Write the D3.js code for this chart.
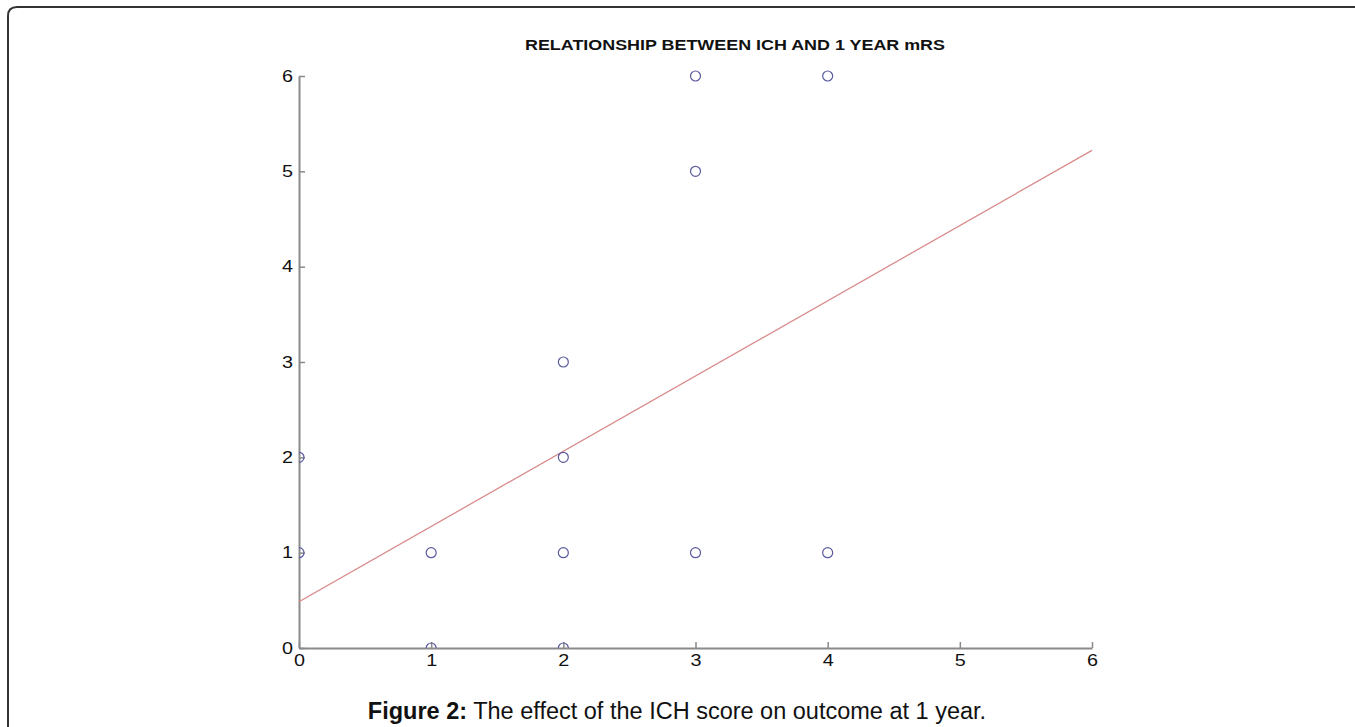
<!DOCTYPE html>
<html><head><meta charset="utf-8">
<script src="https://cdn.jsdelivr.net/npm/d3@7"></script>
<style>body{margin:0;background:#fff;}svg{display:block;font-family:"Liberation Sans",Arial,sans-serif;}</style>
</head><body>
<svg id="c" width="1355" height="727"></svg>
<script>
const ichScore = [0, 0, 1, 1, 2, 2, 2, 2, 3, 3, 3, 4, 4];
const mrs1Year = [1, 2, 0, 1, 0, 1, 2, 3, 1, 5, 6, 1, 6];
const fitIntercept = 0.486;
const fitSlope = 0.789;
const xTicks = [0, 1, 2, 3, 4, 5, 6];
const yTicks = [0, 1, 2, 3, 4, 5, 6];
const title = "RELATIONSHIP BETWEEN ICH AND 1 YEAR mRS";

const svg = d3.select("#c");
svg.append("path").attr("d","M8,727 L8,16 Q8,7 17,7 L1355,7")
  .attr("fill","none").attr("stroke","#333").attr("stroke-width",2);

const L=299,R=1092,T=76,B=648;
const x=d3.scaleLinear().domain([0,6]).range([L,R]);
const y=d3.scaleLinear().domain([0,6]).range([B,T]);

svg.append("defs").append("clipPath").attr("id","clip")
  .append("rect").attr("x",L).attr("y",T-10).attr("width",R-L+10).attr("height",B-T+10);

const axColor="#8a8a8a";
const gx=svg.append("g").attr("transform",`translate(0,${B})`)
  .call(d3.axisBottom(x).tickValues(xTicks).tickFormat(d3.format("d")).tickSize(-6).tickSizeOuter(0).tickPadding(7));
const gy=svg.append("g").attr("transform",`translate(${L},0)`)
  .call(d3.axisLeft(y).tickValues(yTicks).tickFormat(d3.format("d")).tickSize(-6).tickSizeOuter(0).tickPadding(6));
[gx,gy].forEach(g=>{
  g.attr("font-size",null).attr("font-family",null);
  g.select(".domain").attr("stroke",axColor).attr("stroke-width",2);
  g.selectAll(".tick line").attr("stroke",axColor).attr("stroke-width",1.5);
  g.selectAll(".tick text").attr("fill","#111").style("font-size","16px")
    .attr("textLength",11).attr("lengthAdjust","spacingAndGlyphs");
});

const plot=svg.append("g").attr("clip-path","url(#clip)");
plot.append("line")
  .attr("x1",x(0)).attr("y1",y(fitIntercept))
  .attr("x2",x(6)).attr("y2",y(fitIntercept+fitSlope*6))
  .attr("stroke","#d98c8c").attr("stroke-width",1.3);

plot.selectAll("circle").data(ichScore.map((d,i)=>[d,mrs1Year[i]])).enter().append("circle")
  .attr("cx",d=>x(d[0])).attr("cy",d=>y(d[1])).attr("r",5)
  .attr("fill","none").attr("stroke","#5a5a9e").attr("stroke-width",1.2);

svg.append("text").attr("x",735).attr("y",50).attr("text-anchor","middle")
  .attr("textLength",420).attr("lengthAdjust","spacingAndGlyphs")
  .attr("font-weight","bold").attr("font-size",14).attr("fill","#111").text(title);

const cap=svg.append("text").attr("x",677).attr("y",719).attr("text-anchor","middle")
  .attr("font-size",23.5).attr("fill","#111");
cap.append("tspan").attr("font-weight","bold").text("Figure 2:");
cap.append("tspan").text(" The effect of the ICH score on outcome at 1 year.");
</script>
</body></html>
